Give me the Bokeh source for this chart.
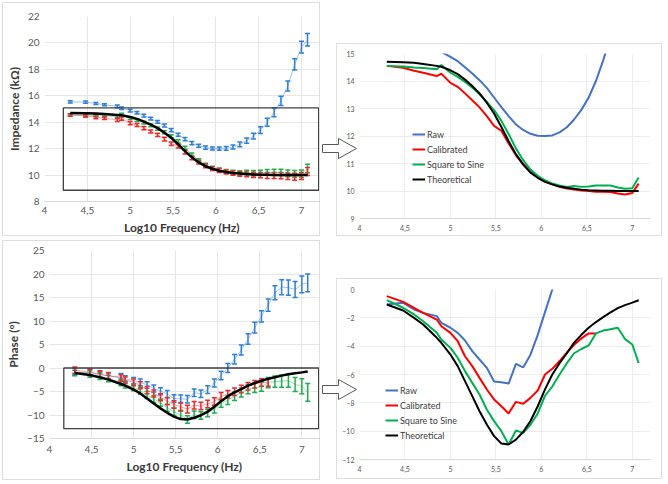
from bokeh.plotting import figure
from bokeh.models import (ColumnDataSource, Whisker, TeeHead, FixedTicker,
                          CustomJSTickFormatter, Range1d)
from bokeh.embed import file_html
from bokeh.resources import INLINE

# log10 of the measurement frequencies
freq = [4.30, 4.48, 4.60, 4.70, 4.85, 4.90, 5.00, 5.08, 5.16, 5.24, 5.32,
        5.40, 5.48, 5.56, 5.64, 5.72, 5.80, 5.88, 5.96, 6.04, 6.12, 6.20,
        6.28, 6.36, 6.44, 6.52, 6.60, 6.68, 6.76, 6.84, 6.92, 7.00, 7.07]

# impedance (kOhm)
raw_z = [15.54, 15.52, 15.42, 15.32, 15.20, 15.06, 14.88, 14.72, 14.50, 14.27, 14.03,
         13.75, 13.40, 13.05, 12.72, 12.42, 12.22, 12.08, 12.01, 12.00, 12.02, 12.13,
         12.32, 12.60, 12.95, 13.40, 14.00, 14.75, 15.62, 16.74, 18.38, 19.68, 20.24]
raw_z_err = [0.08, 0.08, 0.08, 0.08, 0.10, 0.10, 0.10, 0.10, 0.10, 0.10, 0.10,
             0.12, 0.12, 0.12, 0.12, 0.12, 0.12, 0.12, 0.12, 0.12, 0.15, 0.15,
             0.18, 0.20, 0.22, 0.25, 0.30, 0.33, 0.35, 0.38, 0.42, 0.45, 0.47]
cal_z = [14.55, 14.48, 14.37, 14.30, 14.18, 14.27, 13.93, 13.79, 13.55, 13.30, 13.04,
         12.72, 12.37, 12.19, 11.73, 11.30, 10.98, 10.70, 10.49, 10.35, 10.24, 10.15,
         10.09, 10.05, 10.02, 10.00, 9.97, 9.97, 9.96, 9.91, 9.87, 9.93, 10.27]
cal_z_err = [0.10, 0.10, 0.10, 0.10, 0.12, 0.12, 0.12, 0.12, 0.12, 0.12, 0.12,
             0.14, 0.14, 0.14, 0.14, 0.14, 0.14, 0.14, 0.14, 0.15, 0.15, 0.16,
             0.17, 0.18, 0.20, 0.20, 0.22, 0.22, 0.24, 0.25, 0.26, 0.27, 0.30]
sq_z = [14.55, 14.53, 14.49, 14.47, 14.43, 14.58, 14.30, 14.15, 13.97, 13.76, 13.52,
        13.24, 12.94, 12.55, 12.07, 11.55, 11.12, 10.78, 10.55, 10.39, 10.27, 10.20,
        10.15, 10.18, 10.15, 10.16, 10.20, 10.20, 10.20, 10.13, 10.08, 10.10, 10.49]
sq_z_err = [0.08, 0.08, 0.08, 0.08, 0.10, 0.10, 0.10, 0.10, 0.10, 0.10, 0.12,
            0.12, 0.12, 0.12, 0.12, 0.12, 0.12, 0.12, 0.12, 0.14, 0.15, 0.16,
            0.17, 0.18, 0.20, 0.20, 0.22, 0.24, 0.25, 0.26, 0.27, 0.28, 0.32]
theo_z = [14.70, 14.68, 14.66, 14.62, 14.55, 14.52, 14.39, 14.25, 14.05, 13.82, 13.55,
          13.21, 12.82, 12.33, 11.81, 11.34, 10.96, 10.67, 10.48, 10.33, 10.24, 10.16,
          10.12, 10.08, 10.05, 10.03, 10.02, 10.01, 10.01, 10.00, 10.00, 10.00, 10.00]

# phase (degrees)
raw_p = [-1.06, -0.94, -1.41, -1.65, -1.88, -2.35, -2.70, -3.06, -3.60, -4.35, -4.94,
         -5.53, -6.50, -6.55, -6.64, -5.25, -5.50, -4.60, -3.20, -1.60, 0.00, 1.85,
         3.83, 6.17, 8.58, 10.98, 13.40, 16.00, 17.20, 17.10, 16.70, 17.80, 18.10]
raw_p_err = [0.6, 0.6, 0.6, 0.6, 0.7, 0.7, 0.7, 0.7, 0.7, 0.75, 0.75,
             0.75, 0.8, 0.8, 0.8, 0.8, 0.8, 0.8, 0.85, 0.9, 0.95, 1.0,
             1.05, 1.1, 1.15, 1.2, 1.3, 1.5, 1.6, 1.6, 1.7, 1.8, 1.9]
cal_p = [-0.47, -0.87, -1.29, -1.65, -2.12, -2.59, -3.06, -3.65, -4.71, -5.41, -6.24,
         -7.06, -7.76, -8.24, -8.75, -7.93, -8.07, -7.65, -7.13, -6.00, -5.60, -5.05,
         -4.45, -3.90, -3.45, -3.10, -3.10]
cal_p_err = [0.7, 0.7, 0.7, 0.7, 0.7, 0.7, 0.7, 0.75, 0.75, 0.75, 0.75,
             0.75, 0.8, 0.8, 0.8, 0.8, 0.8, 0.8, 0.8, 0.8, 0.8, 0.8,
             0.8, 0.8, 0.8, 0.8, 0.8]
sq_p = [-0.75, -1.29, -1.76, -2.24, -3.06, -3.53, -4.12, -4.82, -5.76, -6.59, -7.41,
        -8.47, -9.29, -10.00, -10.94, -9.95, -10.12, -9.55, -8.75, -7.50, -6.85, -6.00,
        -5.20, -4.50, -4.20, -3.95, -3.10, -2.90, -2.80, -2.70, -3.50, -3.88, -5.20]
sq_p_err = [0.7, 0.7, 0.7, 0.7, 0.7, 0.7, 0.7, 0.75, 0.75, 0.75, 0.75,
            0.75, 0.8, 0.8, 0.8, 0.8, 0.8, 0.8, 0.8, 0.85, 0.9, 0.9,
            0.95, 1.0, 1.0, 1.0, 1.1, 1.2, 1.3, 1.4, 1.5, 1.6, 1.9]
theo_p = [-1.06, -1.48, -2.00, -2.47, -3.41, -3.76, -4.59, -5.41, -6.47, -7.53, -8.59,
          -9.53, -10.35, -10.87, -10.94, -10.60, -10.05, -9.28, -8.24, -7.05, -6.00, -5.20,
          -4.50, -3.75, -3.20, -2.70, -2.30, -1.95, -1.62, -1.32, -1.10, -0.93, -0.76]

x_ticks = [4, 4.5, 5, 5.5, 6, 6.5, 7]
z_ticks = [8, 10, 12, 14, 16, 18, 20, 22]
p_ticks = [-15, -10, -5, 0, 5, 10, 15, 20, 25]
z_zoom_ticks = [9, 10, 11, 12, 13, 14, 15]
p_zoom_ticks = [-12, -10, -8, -6, -4, -2, 0]

# zoom boxes drawn on the left charts: (left, right, bottom, top)
z_box = (4.22, 7.2, 8.85, 15.08)
p_box = (4.17, 7.2, -12.9, 0.0)

FONT = "Lato"
BLUE, RED, GREEN = "#2F7ED8", "#F0282A", "#1EAE4E"
LBLUE, LRED, LGREEN = "#4472C4", "#FF0000", "#00B050"
GRID = "#E6E6E6"
PANEL_BORDER = "1px solid #DEDEDE"


def place(p, left, top, border=True):
    st = {"position": "absolute", "left": f"{left}px", "top": f"{top}px"}
    if border:
        st["border"] = PANEL_BORDER
    p.styles = st


def style_axes(p, yticks, tick_size, x_standoff):
    p.xaxis.ticker = FixedTicker(ticks=x_ticks)
    p.yaxis.ticker = FixedTicker(ticks=yticks)
    p.xaxis.formatter = CustomJSTickFormatter(code="return String(tick).replace('.', ',')")
    p.xgrid.ticker = FixedTicker(ticks=x_ticks)
    p.ygrid.ticker = FixedTicker(ticks=yticks)
    p.grid.grid_line_color = GRID
    p.outline_line_color = None
    p.axis.major_tick_line_color = None
    p.axis.minor_tick_line_color = None
    p.axis.major_tick_out = 0
    p.axis.major_tick_in = 0
    p.axis.minor_tick_out = 0
    p.axis.major_label_text_font = FONT
    p.axis.major_label_text_font_size = tick_size
    p.axis.major_label_text_color = "#595959"
    p.yaxis.major_label_standoff = 5
    p.xaxis.major_label_standoff = x_standoff
    p.xaxis.axis_line_color = "#D9D9D9"
    p.yaxis.axis_line_color = None
    p.axis.axis_label_text_font = FONT
    p.axis.axis_label_text_font_style = "bold"
    p.axis.axis_label_text_font_size = "12px"
    p.axis.axis_label_text_color = "#3A3A3A"
    p.axis.axis_label_standoff = 3


def error_series(p, xs, ys, errs, color):
    p.line(xs, ys, line_color=color, line_alpha=0.45, line_width=1)
    src = ColumnDataSource(dict(x=xs,
                                lo=[y - e for y, e in zip(ys, errs)],
                                hi=[y + e for y, e in zip(ys, errs)]))
    p.add_layout(Whisker(source=src, base="x", lower="lo", upper="hi",
                         line_color=color, line_width=1.5,
                         lower_head=TeeHead(size=5, line_color=color, line_width=1.5),
                         upper_head=TeeHead(size=5, line_color=color, line_width=1.5)))


def left_panel(yr, yticks, ylabel, series, theo, box, height, bl, bt, bb, xs_off):
    p = figure(width=318, height=height, x_range=Range1d(4, 7.21), y_range=Range1d(*yr),
               output_backend="svg", toolbar_location=None,
               min_border_left=bl, min_border_right=2,
               min_border_top=bt, min_border_bottom=bb)
    style_axes(p, yticks, "10px", xs_off)
    p.xaxis.axis_label = "Log10 Frequency (Hz)"
    p.yaxis.axis_label = ylabel
    for xs, ys, errs, color in series:
        error_series(p, xs, ys, errs, color)
    p.line(freq, theo, line_color="black", line_width=2.5)
    p.quad(left=box[0], right=box[1], bottom=box[2], top=box[3],
           fill_color=None, line_color="#404040", line_width=1.3)
    return p


def right_panel(yr, yticks, lines, height, bt, bb, legend_loc):
    p = figure(width=326, height=height, x_range=Range1d(4, 7.2), y_range=Range1d(*yr),
               output_backend="svg", toolbar_location=None,
               min_border_left=22, min_border_right=13,
               min_border_top=bt, min_border_bottom=bb)
    style_axes(p, yticks, "7px", 6)
    p.grid.grid_line_color = "#EDEDED"
    for xs, ys, color, label in lines:
        p.line(xs, ys, line_color=color, line_width=2, legend_label=label)
    lg = p.legend[0]
    lg.location = legend_loc
    lg.background_fill_alpha = 0
    lg.border_line_color = None
    lg.padding = 0
    lg.margin = 0
    lg.spacing = 3
    lg.glyph_height = 12
    lg.label_height = 12
    lg.glyph_width = 13
    lg.label_standoff = 2
    lg.label_text_font = FONT
    lg.label_text_font_size = "9px"
    lg.label_text_color = "#404040"
    return p


def arrow_panel(cy):
    # hollow block arrow; the strip's ranges are page pixels
    p = figure(width=40, height=30, x_range=Range1d(320, 360),
               y_range=Range1d(cy + 15, cy - 15),
               output_backend="svg", toolbar_location=None,
               x_axis_location=None, y_axis_location=None, min_border=0)
    p.outline_line_color = None
    p.background_fill_alpha = 0
    p.border_fill_alpha = 0
    p.grid.visible = False
    ax = [322, 338, 338, 356, 338, 338, 322]
    ay = [cy - 4, cy - 4, cy - 10, cy, cy + 10, cy + 4, cy + 4]
    p.patch(ax, ay, fill_color="white", line_color="#595959", line_width=1)
    place(p, 320, cy - 15, border=False)
    return p


p1 = left_panel((8, 22), z_ticks, "Impedance (kΩ)",
                [(freq, raw_z, raw_z_err, BLUE),
                 (freq, sq_z, sq_z_err, GREEN),
                 (freq, cal_z, cal_z_err, RED)],
                theo_z, z_box, 234, 41, 13, 35, 5)
place(p1, 2, 2)

p2 = right_panel((9, 15), z_zoom_ticks,
                 [(freq, raw_z, LBLUE, "Raw"),
                  (freq, cal_z, LRED, "Calibrated"),
                  (freq, sq_z, LGREEN, "Square to Sine"),
                  (freq, theo_z, "black", "Theoretical")],
                 193, 9, 19, (53, 33))
place(p2, 336, 43)

p3 = left_panel((-15, 25), p_ticks, "Phase (°)",
                [(freq, raw_p, raw_p_err, BLUE),
                 (freq, sq_p, sq_p_err, GREEN),
                 (freq[:len(cal_p)], cal_p, cal_p_err, RED)],
                theo_p, p_box, 240, 46, 9, 43, 7)
place(p3, 2, 240)

p4 = right_panel((-12, 0), p_zoom_ticks,
                 [(freq, raw_p, LBLUE, "Raw"),
                  (freq[:len(cal_p)], cal_p, LRED, "Calibrated"),
                  (freq, sq_p, LGREEN, "Square to Sine"),
                  (freq, theo_p, "black", "Theoretical")],
                 201, 10, 21, (26, 18))
place(p4, 336, 278)

roots = [p1, p2, p3, p4, arrow_panel(148), arrow_panel(389)]

open("out.html", "w").write(file_html(roots, INLINE))
